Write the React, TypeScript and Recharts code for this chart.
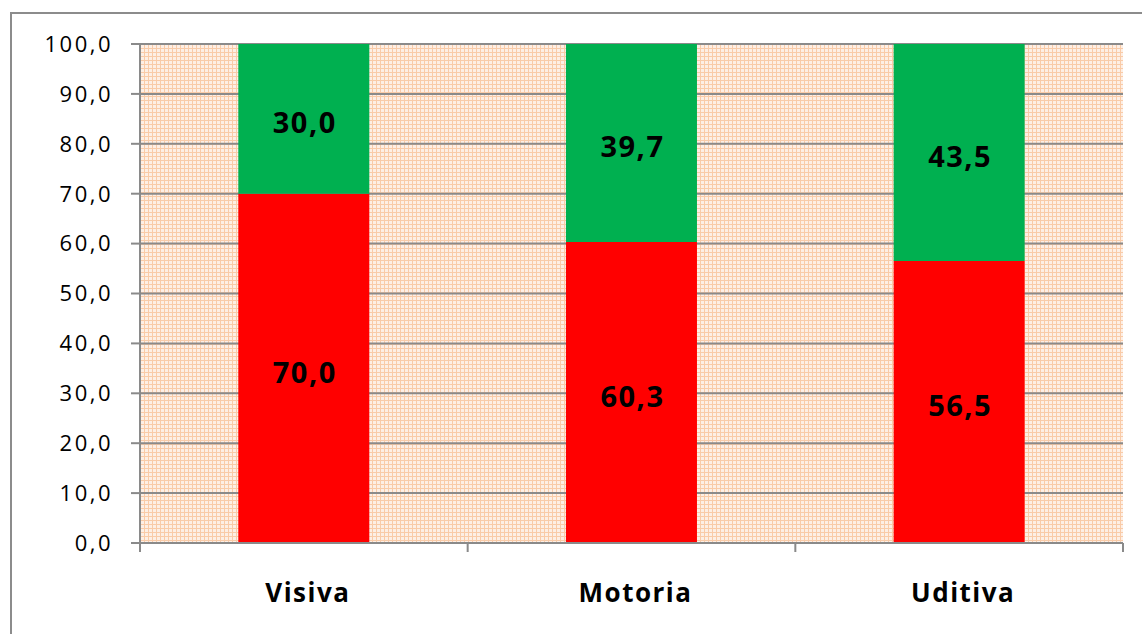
import React from "react";
import { BarChart, Bar, XAxis, YAxis, CartesianGrid, LabelList } from "recharts";

const categories = ["Visiva", "Motoria", "Uditiva"];
const redValues = [70.0, 60.3, 56.5];
const greenValues = [30.0, 39.7, 43.5];
const yTicks = [0, 10, 20, 30, 40, 50, 60, 70, 80, 90, 100];

const data = categories.map((c, i) => ({ name: c, red: redValues[i], green: greenValues[i] }));

const fmt = (v: any) => Number(v).toFixed(1).replace(".", ",");
const FONT = "'Open Sans', Lato, sans-serif";
const AXIS_GRAY = "#8a8a8a";

const CatTick = (props: any) => {
  const { x, y, payload, width, visibleTicksCount, index } = props;
  const half = width && visibleTicksCount ? width / visibleTicksCount / 2 : 0;
  const isLast = index === visibleTicksCount - 1;
  return (
    <g>
      {half > 0 && <line x1={x - half} x2={x - half} y1={y} y2={y + 9} stroke={AXIS_GRAY} strokeWidth={2} />}
      {half > 0 && isLast && <line x1={x + half} x2={x + half} y1={y} y2={y + 9} stroke={AXIS_GRAY} strokeWidth={2} />}
      <text x={x + 4} y={y + 49} textAnchor="middle" dominantBaseline="central" fontFamily={FONT} fontWeight="bold" fontSize={26} letterSpacing={1.5} fill="#000">
        {payload.value}
      </text>
    </g>
  );
};

export default function App() {
  return (
    <div style={{ position: "absolute", left: 0, top: 0, width: 1142, height: 634, overflow: "hidden", background: "#fff" }}>
      <svg width={0} height={0} style={{ position: "absolute" }}>
        <defs>
          <pattern id="peach" width={4} height={4} patternUnits="userSpaceOnUse">
            <rect width={4} height={4} fill="#fdefe5" />
            <path d="M0 0.5 H4 M0.5 0 V4" stroke="#f9cba8" strokeWidth={1} />
          </pattern>
        </defs>
      </svg>
      <div style={{ position: "absolute", left: 10, top: 12, width: 1200, height: 700, border: "2px solid #8c8c8c", boxSizing: "border-box" }} />
      <div style={{ position: "absolute", left: 0, top: 0 }}>
        <BarChart width={1142} height={634} data={data} margin={{ top: 44, right: 19, bottom: 0, left: 0 }} barCategoryGap="30%">
          <CartesianGrid vertical={false} stroke={AXIS_GRAY} strokeWidth={2} fill="url(#peach)" fillOpacity={1} />
          <XAxis dataKey="name" height={91} axisLine={{ stroke: AXIS_GRAY, strokeWidth: 2 }} tickLine={false} tickSize={0} tickMargin={0} tick={<CatTick />} interval={0} />
          <YAxis type="number" domain={[0, 100]} ticks={yTicks} width={140} tickSize={9} tickMargin={18} tickFormatter={fmt} interval={0}
            axisLine={{ stroke: AXIS_GRAY, strokeWidth: 2 }} tickLine={{ stroke: AXIS_GRAY, strokeWidth: 2 }}
            tick={{ fontFamily: FONT, fontSize: 22, fill: "#000", letterSpacing: 2.5 }} />
          <Bar dataKey="red" stackId="a" fill="#ff0000" isAnimationActive={false}>
            <LabelList dataKey="red" position="center" formatter={fmt} fill="#000" fontFamily={FONT} fontWeight="bold" fontSize={29} letterSpacing={1.5} dx={1} dy={4} />
          </Bar>
          <Bar dataKey="green" stackId="a" fill="#00b050" isAnimationActive={false}>
            <LabelList dataKey="green" position="center" formatter={fmt} fill="#000" fontFamily={FONT} fontWeight="bold" fontSize={29} letterSpacing={1.5} dx={1} dy={4} />
          </Bar>
        </BarChart>
      </div>
    </div>
  );
}
